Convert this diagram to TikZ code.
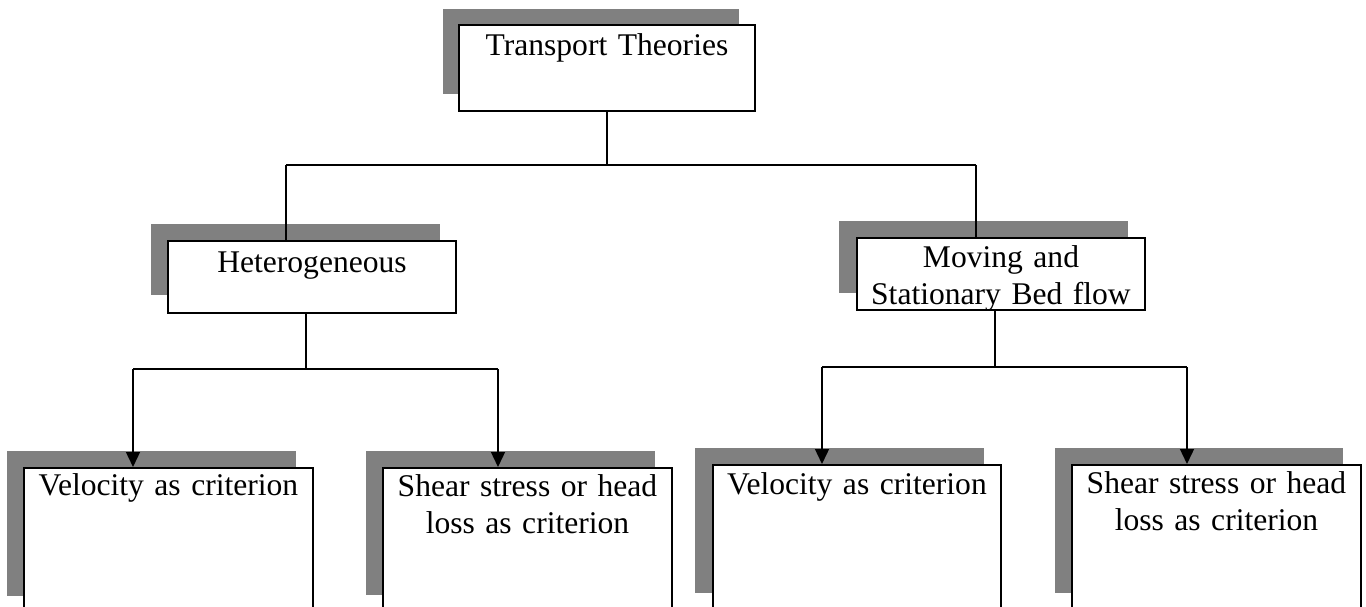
\documentclass[tikz,border=0pt]{standalone}
\usepackage{fontspec}
\setmainfont{Liberation Serif}
\usetikzlibrary{arrows.meta}
\begin{document}
\begin{tikzpicture}[x=0.38pt,y=-0.38pt,
  shadowfill/.style={fill=gray},
  tbox/.style={draw=black, line width=0.75pt, fill=white, inner sep=0pt, anchor=north west,
    align=center, font=\fontsize{12}{13.8}\selectfont},
  conn/.style={line width=0.6pt},
  arr/.style={conn, -{Triangle[width=5.3pt,length=5.7pt]}}]
\useasboundingbox (0,0) rectangle (1366,607);
\clip (0,0) rectangle (1366,607);
% shadows
\fill[shadowfill] (443,9) rectangle (739,94);
\fill[shadowfill] (151,224) rectangle (440,295);
\fill[shadowfill] (839,221) rectangle (1128,293);
\fill[shadowfill] (7,451) rectangle (296,596);
\fill[shadowfill] (366,451) rectangle (655,595);
\fill[shadowfill] (695,448) rectangle (984,593);
\fill[shadowfill] (1055,448) rectangle (1343,593);
% boxes
\node[tbox, text width=112.48pt, text height=11.78pt, text depth=20.9pt] (top) at (458,24) {Transport Theories};
\node[tbox, text width=109.44pt, text height=12.16pt, text depth=15.2pt] (het) at (167,240) {Heterogeneous};
\node[tbox, text width=109.44pt, text height=11.4pt, text depth=15.96pt] (mov) at (856,237) {Moving and\\Stationary Bed flow};
\node[tbox, text width=109.82pt, text height=10.64pt, text depth=47.5pt] (v1) at (23,467) {Velocity as criterion};
\node[tbox, text width=109.82pt, text height=11.02pt, text depth=47.5pt] (s1) at (382,467) {Shear stress or head\\loss as criterion};
\node[tbox, text width=109.44pt, text height=11.4pt, text depth=47.5pt] (v2) at (712,464) {Velocity as criterion};
\node[tbox, text width=109.82pt, text height=11.02pt, text depth=47.5pt] (s2) at (1071,464) {Shear stress or head\\loss as criterion};
% junctions
\coordinate (j0) at (607,165);
\coordinate (j0l) at (286,165);
\coordinate (j0r) at (976,165);
\coordinate (jh) at (306,369);
\coordinate (jhl) at (133,369);
\coordinate (jhr) at (498,369);
\coordinate (jm) at (995,367);
\coordinate (jml) at (822,367);
\coordinate (jmr) at (1187,367);
% connectors
\draw[conn] (top.south) -- (j0);
\draw[conn] (j0l) -- (j0r);
\draw[conn] (j0l) -- (j0l |- het.north);
\draw[conn] (j0r) -- (j0r |- mov.north);
\draw[conn] (jh |- het.south) -- (jh);
\draw[conn] (jhl) -- (jhr);
\draw[arr] (jhl) -- (jhl |- v1.north);
\draw[arr] (jhr) -- (jhr |- s1.north);
\draw[conn] (jm |- mov.south) -- (jm);
\draw[conn] (jml) -- (jmr);
\draw[arr] (jml) -- (jml |- v2.north);
\draw[arr] (jmr) -- (jmr |- s2.north);
\end{tikzpicture}
\end{document}
